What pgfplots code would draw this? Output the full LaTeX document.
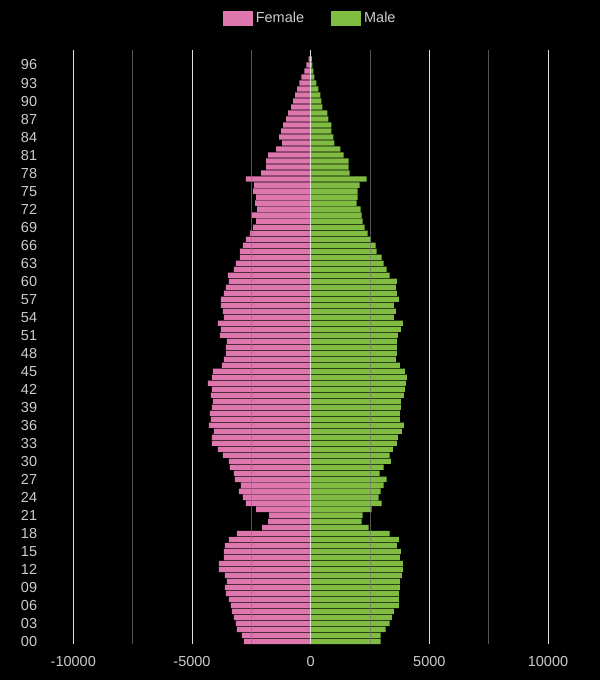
\documentclass[border=0pt]{standalone}
\usepackage{fontspec}
\setmainfont{Liberation Sans}
\usepackage{pgfplots}
\usepackage{pgfplotstable}
\pgfplotsset{compat=1.18}
\definecolor{fem}{HTML}{DE77AE}
\definecolor{mal}{HTML}{7FBC41}
\definecolor{txt}{HTML}{CCCCCC}
\definecolor{gridmaj}{HTML}{DDDDDD}
\definecolor{gridmin}{HTML}{777777}
\pgfplotstableread{
age F M
0 -2810 2951
1 -2895 2951
2 -3106 3163
3 -3149 3332
4 -3234 3417
5 -3318 3502
6 -3361 3714
7 -3445 3714
8 -3572 3714
9 -3615 3756
10 -3530 3756
11 -3615 3841
12 -3869 3883
13 -3869 3883
14 -3657 3756
15 -3657 3798
16 -3615 3629
17 -3445 3714
18 -3106 3332
19 -2047 2443
20 -1793 2146
21 -1751 2189
22 -2302 2570
23 -2725 2993
24 -2852 2866
25 -3022 2951
26 -2937 3078
27 -3191 3205
28 -3234 2909
29 -3403 3078
30 -3445 3375
31 -3699 3332
32 -3911 3459
33 -4165 3629
34 -4165 3671
35 -4081 3841
36 -4292 3925
37 -4208 3756
38 -4250 3756
39 -4165 3798
40 -4123 3798
41 -4208 3925
42 -4165 3968
43 -4335 4010
44 -4165 4052
45 -4123 3968
46 -3742 3756
47 -3657 3586
48 -3572 3629
49 -3572 3629
50 -3530 3629
51 -3827 3671
52 -3784 3798
53 -3911 3883
54 -3657 3502
55 -3699 3586
56 -3784 3502
57 -3784 3714
58 -3657 3629
59 -3572 3586
60 -3445 3629
61 -3488 3332
62 -3234 3205
63 -3149 3078
64 -2979 2993
65 -2979 2782
66 -2852 2739
67 -2725 2527
68 -2556 2400
69 -2429 2273
70 -2302 2189
71 -2471 2146
72 -2259 2104
73 -2344 1934
74 -2302 1977
75 -2429 1977
76 -2386 2062
77 -2725 2358
78 -2090 1638
79 -1878 1596
80 -1878 1596
81 -1793 1384
82 -1454 1257
83 -1200 1003
84 -1327 960
85 -1243 875
86 -1158 875
87 -1031 748
88 -946 706
89 -819 494
90 -734 452
91 -650 410
92 -565 325
93 -480 240
94 -395 155
95 -268 113
96 -184 71
97 -85 56
}\popdata
\begin{document}
\begin{tikzpicture}
\useasboundingbox (0,0) rectangle (600bp,680bp);
\fill[black] (0,0) rectangle (600bp,680bp);
\begin{axis}[
  at={(73.3bp,35.5bp)}, anchor=south west,
  width=474.7bp, height=594.5bp, scale only axis,
  xmin=-10000, xmax=10000, ymin=-0.5, ymax=98.5,
  xbar, bar width=0.88, bar shift=0pt,
  axis line style={draw=none},
  major tick length=0pt, minor tick length=0pt,
  scaled x ticks=false, scaled y ticks=false,
  xtick={-10000,-5000,0,5000,10000},
  xticklabels={-10000,-5000,0,5000,10000},
  minor xtick={-7500,-2500,2500,7500},
  ytick={0,3,...,96},
  yticklabels={00,03,06,09,12,15,18,21,24,27,30,33,36,39,42,45,48,51,54,57,60,63,66,69,72,75,78,81,84,87,90,93,96},
  xmajorgrids, xminorgrids, ymajorgrids=false,
  major grid style={color=gridmaj, line width=0.9bp},
  minor grid style={color=gridmin, opacity=0.7, line width=0.9bp},
  axis on top,
  xticklabel pos=lower, yticklabel pos=left,
  font=\fontsize{14.5bp}{16bp}\selectfont,
  tick label style={text=txt, font=\fontsize{14.5bp}{16bp}\selectfont},
  yticklabel style={anchor=east, inner sep=0pt, xshift=-36bp},
  xticklabel style={anchor=base, inner sep=0pt, yshift=-22.5bp},
  legend columns=2,
  legend style={at={(0.5,1)}, anchor=center, yshift=31.7bp, draw=none, fill=none,
    text=txt, font=\fontsize{14.5bp}{16bp}\selectfont,
    nodes={inner sep=3bp},
    /tikz/every even column/.append style={column sep=24bp}},
  legend image code/.code={\fill[#1] (0bp,-7.5bp) rectangle (30bp,7.5bp);},
]
\addplot[fill=fem, draw=none] table[x=F, y=age] {\popdata};
\addlegendentry{Female}
\addplot[fill=mal, draw=none] table[x=M, y=age] {\popdata};
\addlegendentry{Male}
\end{axis}
\end{tikzpicture}
\end{document}
